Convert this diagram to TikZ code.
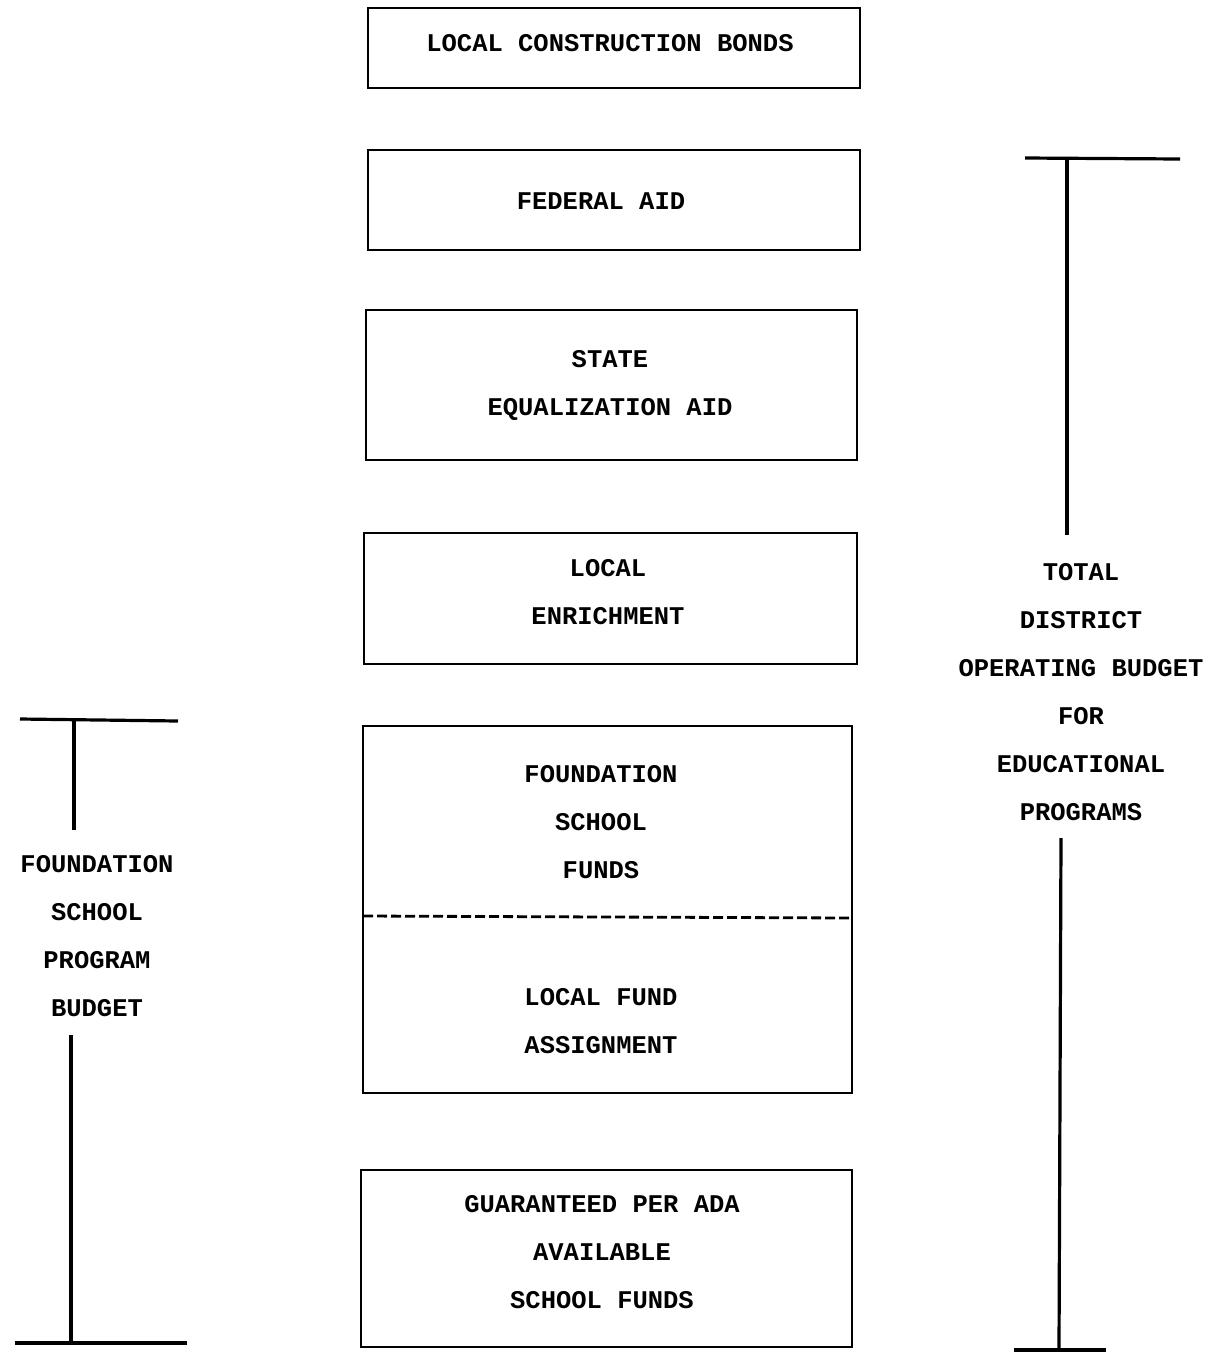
\documentclass[tikz,border=0pt]{standalone}
\usepackage{fontspec}
\setmonofont{Liberation Mono}
\begin{document}
\begin{tikzpicture}[x=1pt,y=-1pt,
  box/.style={draw, line width=2.8pt, rectangle, inner sep=0pt},
  lbl/.style={font=\ttfamily\bfseries\fontsize{25.5}{48}\selectfont, align=center, inner sep=0pt, anchor=center},
  bar/.style={line width=3.2pt}]
\useasboundingbox[fill=white] (0,0) rectangle (1210,1353);
% boxes
\node[box, minimum width=492pt, minimum height=80pt] (b1) at (614,48) {};
\node[box, minimum width=492pt, minimum height=100pt] (b2) at (614,200) {};
\node[box, minimum width=491pt, minimum height=150pt] (b3) at (611.5,385) {};
\node[box, minimum width=493pt, minimum height=131pt] (b4) at (610.5,598.5) {};
\node[box, minimum width=489pt, minimum height=367pt] (b5) at (607.5,909.5) {};
\node[box, minimum width=491pt, minimum height=177pt] (b6) at (606.5,1258.5) {};
% labels in boxes
\node[lbl] (t1) at (610,43) {LOCAL CONSTRUCTION BONDS};
\node[lbl] (t2) at (601,201) {FEDERAL AID};
\node[lbl] (t3) at (610,385) {STATE\\EQUALIZATION AID};
\node[lbl] (t4) at (608,592) {LOCAL\\ENRICHMENT};
\node[lbl] (t5) at (601,822) {FOUNDATION\\SCHOOL\\FUNDS};
\node[lbl] (t6) at (601,1021) {LOCAL FUND\\ASSIGNMENT};
\node[lbl] (t7) at (602,1252) {GUARANTEED PER ADA\\AVAILABLE\\SCHOOL FUNDS};
% dashed divider
\coordinate (d1) at (363,916);
\coordinate (d2) at (852,918);
\draw[line width=2.8pt, dash pattern=on 10pt off 4pt] (d1) -- (d2);
% right bracket
\node[lbl] (rt) at (1081,692) {TOTAL\\DISTRICT\\OPERATING BUDGET\\FOR\\EDUCATIONAL\\PROGRAMS};
\coordinate (r1) at (1025,158);
\coordinate (r2) at (1180,159);
\coordinate (r3) at (1067,158);
\coordinate (r5) at (1059,1350);
\coordinate (r6) at (1014,1350);
\coordinate (r7) at (1106,1350);
\draw[bar] (r1) -- (r2);
\draw[bar] (r3) -- (1067,535);
\draw[bar] (1061,838) -- (r5);
\draw[bar] (r6) -- (r7);
% left bracket
\node[lbl] (lt) at (97,936) {FOUNDATION\\SCHOOL\\PROGRAM\\BUDGET};
\coordinate (l1) at (20,719);
\coordinate (l2) at (178,721);
\coordinate (l3) at (74,720);
\coordinate (l5) at (71,1343);
\coordinate (l6) at (15,1343);
\coordinate (l7) at (187,1343);
\draw[bar] (l1) -- (l2);
\draw[bar] (l3) -- (74,830);
\draw[bar] (71,1035) -- (l5);
\draw[bar] (l6) -- (l7);
\end{tikzpicture}
\end{document}
